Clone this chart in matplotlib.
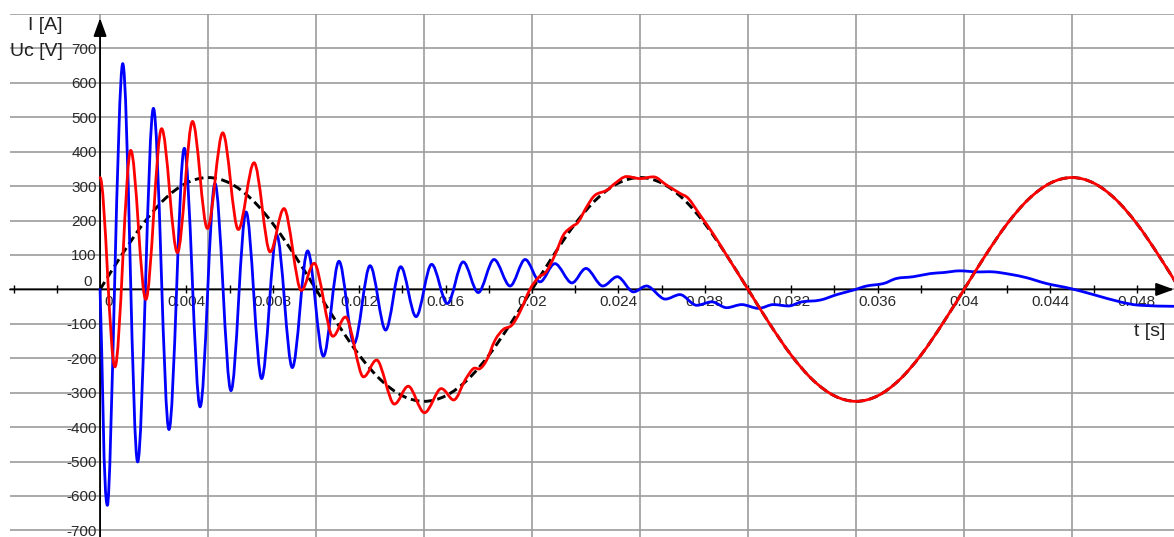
import numpy as np
import matplotlib.pyplot as plt
from matplotlib.path import Path
from matplotlib.patches import PathPatch

plt.rcParams['font.family'] = ['Liberation Sans', 'DejaVu Sans']

# source voltage u(t) [V], sampled every 1 ms
t_src = np.arange(0, 51)
u_src = [0, 100, 191, 263, 309, 325, 309, 263, 191, 100,
         0, -100, -191, -263, -309, -325, -309, -263, -191, -100,
         0, 100, 191, 263, 309, 325, 309, 263, 191, 100,
         0, -100, -191, -263, -309, -325, -309, -263, -191, -100,
         0, 100, 191, 263, 309, 325, 309, 263, 191, 100, 0]

# capacitor voltage Uc [V] (times in ms)
t_uc = [0, 0.69, 1.42, 2.12, 2.85, 3.58, 4.28, 4.97, 5.68, 6.40,
        7.13, 7.87, 8.52, 9.31, 9.92, 10.77, 11.37, 12.19, 12.81, 13.62,
        14.27, 15.02, 15.79, 16.37, 16.9, 17.28, 17.59, 17.9, 18.29, 18.67,
        19.06, 19.44, 19.9, 20.3, 20.65, 21.06, 21.45, 21.84, 22.14, 22.53,
        22.92, 23.46, 23.84, 24.38, 25.0, 25.62, 26.23, 26.85, 27.24, 27.78,
        28.4, 29, 30, 31, 32, 33, 34, 35, 36, 37, 38, 39, 40,
        41, 42, 43, 44, 45, 46, 47, 48, 49, 50]
u_c = [325, -225, 404, -29, 467, 107, 488, 177, 455, 174,
       368, 109, 235, -3, 76, -136, -80, -254, -205, -333,
       -281, -358, -288, -321, -263, -230, -230, -205, -147, -116,
       -104, -65, 0, 35, 51, 100, 158, 182, 196, 240,
       274, 288, 308, 328, 322, 327, 303, 279, 264, 216,
       160, 100, 0, -100, -191, -263, -309, -325, -309, -263, -191, -100, 0,
       100, 191, 263, 309, 325, 309, 263, 191, 100, 0]

# current I [A] (times in ms)
t_i = [0, 0.34, 1.05, 1.74, 2.47, 3.19, 3.90, 4.63, 5.32, 6.06,
       6.76, 7.48, 8.18, 8.90, 9.61, 10.34, 11.06, 11.76, 12.50, 13.22,
       13.92, 14.63, 15.35, 16.08, 16.81, 17.51, 18.24, 18.98, 19.68, 20.37,
       21.06, 21.84, 22.50, 23.27, 23.95, 24.69, 25.31, 26.16, 26.85, 27.62,
       28.32, 29.01, 29.71, 30.48, 31.17, 31.87, 32.49, 33.33, 34.11, 34.87,
       35.49, 36.26, 36.88, 37.65, 38.43, 39.04, 39.81, 40.59, 41.36, 42.13,
       42.90, 43.83, 44.91, 45.99, 47.22, 48.15, 49.72, 50.5]
i_vals = [0, -627, 656, -501, 526, -407, 410, -341, 308, -294,
          225, -259, 158, -227, 112, -194, 82, -157, 69, -118,
          66, -79, 73, -41, 80, -9, 87, 10, 87, 22,
          75, 19, 61, 10, 37, -7, 10, -28, -15, -46,
          -36, -53, -44, -55, -44, -48, -36, -31, -15, -2,
          10, 17, 32, 37, 46, 49, 54, 51, 51, 44,
          34, 17, 3, -15, -36, -46, -49, -50]

x_ticks = [0, 0.004, 0.008, 0.012, 0.016, 0.02, 0.024, 0.028, 0.032, 0.036, 0.04, 0.044, 0.048]
x_labels = ['0', '0.004', '0.008', '0.012', '0.016', '0.02', '0.024', '0.028',
            '0.032', '0.036', '0.04', '0.044', '0.048']
y_ticks = [700, 600, 500, 400, 300, 200, 100, 0, -100, -200, -300, -400, -500, -600, -700]


def smooth(t, v, flat_start=False):
    # bezier path through the points, flat at local extrema
    p = np.column_stack([np.asarray(t, float) / 1000.0, np.asarray(v, float)])
    n = len(p)
    d = np.zeros_like(p)
    for k in range(n):
        a, b = p[max(k - 1, 0)], p[min(k + 1, n - 1)]
        d[k] = (b - a) / (2.0 if 0 < k < n - 1 else 1.0)
        if 0 < k < n - 1 and (p[k, 1] - p[k - 1, 1]) * (p[k + 1, 1] - p[k, 1]) < 0:
            d[k, 1] = 0
    if flat_start:
        d[0, 1] = 0
    verts = [p[0]]
    codes = [Path.MOVETO]
    for k in range(n - 1):
        verts += [p[k] + d[k] / 3, p[k + 1] - d[k + 1] / 3, p[k + 1]]
        codes += [Path.CURVE4] * 3
    return Path(verts, codes)


fig = plt.figure(figsize=(11.74, 5.37), dpi=100)
ax = fig.add_axes([10 / 1174, 0, 1164 / 1174, 523 / 537])
ax.set_xlim(-0.00417, 0.04972)
ax.set_ylim(-719, 800)
ax.axis('off')

grid_c = '#9c9c9c'
for v in range(-700, 801, 100):
    ax.axhline(v, color=grid_c, lw=1.2, zorder=1)
for t in np.arange(0, 0.046, 0.005):
    ax.axvline(t, color=grid_c, lw=1.2, zorder=1)

# axes with arrow heads
arr = dict(arrowstyle='-|>,head_length=1.1,head_width=0.4', color='black',
           lw=1.3, shrinkA=0, shrinkB=0, mutation_scale=10)
ax.annotate('', xy=(0.04972, 0), xytext=(-0.00417, 0), arrowprops=arr, zorder=2.5)
ax.annotate('', xy=(0, 788), xytext=(0, -719), arrowprops=arr, zorder=2.5)
ax.plot(np.arange(-0.004, 0.0481, 0.002), np.zeros(27), ls='none', marker='|',
        ms=6, mew=1, color='black', zorder=2.5)

# tick labels
lab_c = '#2a2a2a'
for t, s in zip(x_ticks, x_labels):
    xp = 0.0004 if s == '0' else t
    ax.text(xp, -37, s, ha='center', va='center', fontsize=11, color=lab_c,
            zorder=2, bbox=dict(facecolor='white', edgecolor='none', pad=0.5))
for v in y_ticks:
    if v == 0:
        ax.text(-0.00037, 21, '0', ha='right', va='center', fontsize=11, color=lab_c)
    else:
        ax.text(-0.00015, v - 4, str(v), ha='right', va='center', fontsize=11,
                color=lab_c)

fig.text(62 / 1174, 1 - 25 / 537, 'I [A]', ha='right', va='center', fontsize=14, color='#222222')
fig.text(63 / 1174, 1 - 51 / 537, 'Uc [V]', ha='right', va='center', fontsize=14, color='#222222')
fig.text(1165 / 1174, 1 - 331 / 537, 't [s]', ha='right', va='center', fontsize=14, color='#222222')

# curves
ax.add_patch(PathPatch(smooth(t_src, u_src), fill=False, edgecolor='black', lw=2.1,
                       linestyle=(0, (3, 1.6)), zorder=3))
ax.add_patch(PathPatch(smooth(t_i, i_vals), fill=False, edgecolor='#0000ff', lw=2.0,
                       zorder=4, joinstyle='round', capstyle='round'))
ax.add_patch(PathPatch(smooth(t_uc, u_c, flat_start=True), fill=False, edgecolor='#ff0000',
                       lw=2.0, zorder=5, joinstyle='round', capstyle='round'))

fig.savefig('out.png', dpi=100)
